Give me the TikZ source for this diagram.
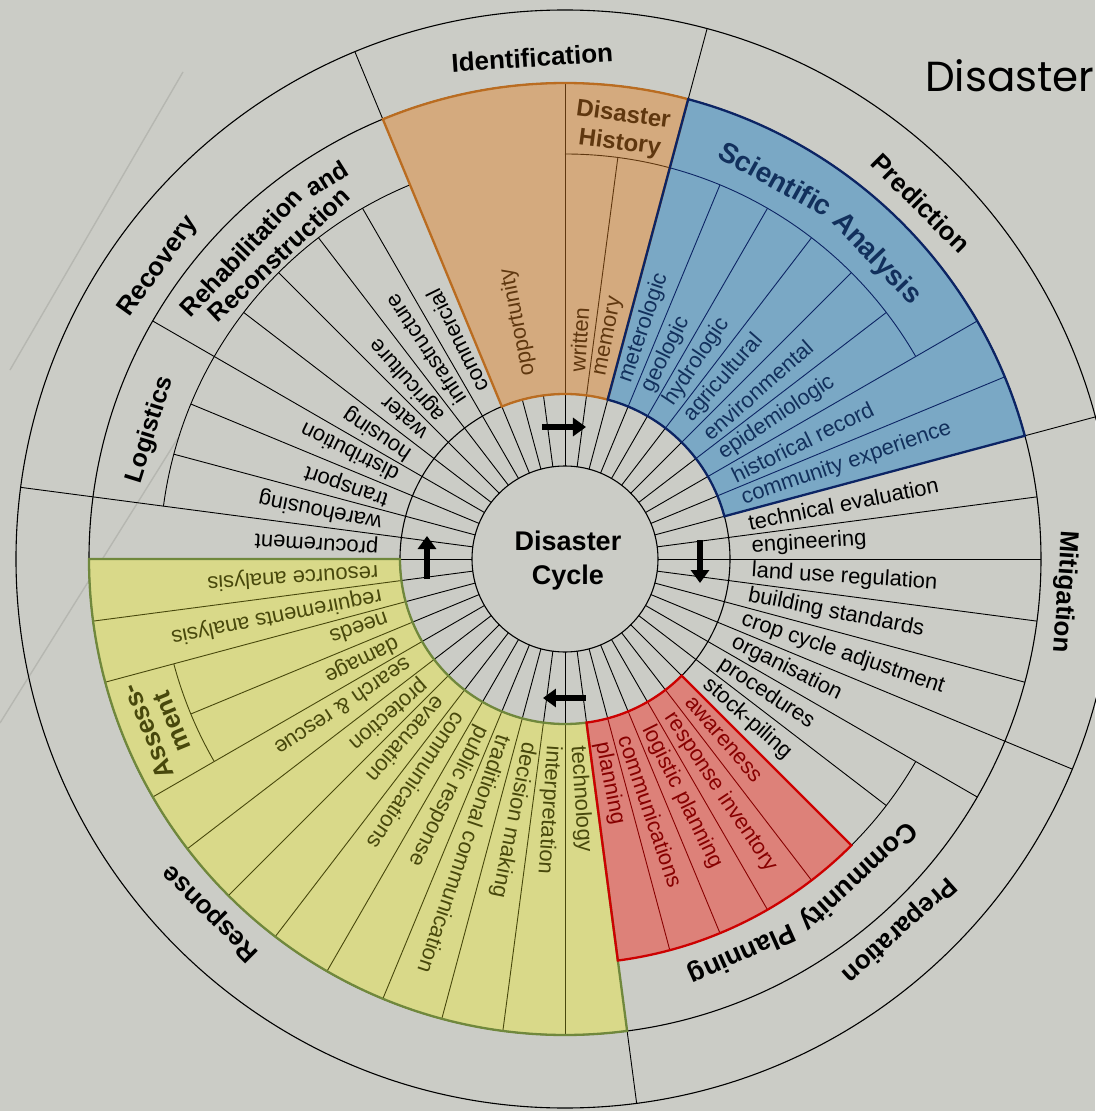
\documentclass[tikz,border=0pt]{standalone}
\usepackage{fontspec}
\setmainfont{Liberation Sans}
\newfontfamily\slidefont{Poppins}
\usetikzlibrary{arrows.meta}

\definecolor{bg}{RGB}{203,204,198}
\definecolor{orfill}{RGB}{212,170,126}
\definecolor{orline}{RGB}{186,108,32}
\definecolor{ortext}{RGB}{95,55,15}
\definecolor{blfill}{RGB}{122,168,197}
\definecolor{blline}{RGB}{12,36,100}
\definecolor{bltext}{RGB}{18,48,92}
\definecolor{yefill}{RGB}{217,217,137}
\definecolor{yeline}{RGB}{112,136,60}
\definecolor{yetext}{RGB}{72,72,12}
\definecolor{rdfill}{RGB}{221,129,121}
\definecolor{rdline}{RGB}{205,0,0}
\definecolor{rdtext}{RGB}{135,0,0}
\definecolor{faint}{RGB}{182,183,177}

\newcommand\itemsize{\fontsize{22}{24}\selectfont}
\newcommand\lblfont{\bfseries\fontsize{26}{28}\selectfont}
\newcommand\midfont{\bfseries\fontsize{25}{27}\selectfont}
\newcommand\safont{\bfseries\fontsize{28}{30}\selectfont}
\newcommand\dhfont{\bfseries\fontsize{24}{26}\selectfont}
\newcommand\asfont{\bfseries\fontsize{26}{28}\selectfont}
\newcommand\cpfont{\bfseries\fontsize{27}{29}\selectfont}

\begin{document}
\begin{tikzpicture}[x=1pt,y=1pt,
  circline/.style={line width=1.1pt,draw=black},
  thinl/.style={line width=0.9pt},
  secborder/.style={line width=2.3pt},
  itemtext/.style={font=\itemsize,anchor=west,inner sep=1pt},
  lbl/.style={anchor=base,inner sep=0pt},
  cyclearrow/.style={line width=6.5pt,-{Triangle[length=13pt,width=18pt]}}]

\useasboundingbox (-565,-552) rectangle (530,559);
\fill[bg] (-565,-552) rectangle (530,559);

% faint slide decoration
\draw[faint,line width=1.4pt] (-382,487) -- (-555,189);
\draw[faint,line width=1.4pt] (-387,121) -- (-565,-164);

% sector fills
\fill[orfill] (75:165pt) arc[start angle=75,end angle=112.5,radius=165pt] -- (112.5:476pt) arc[start angle=112.5,end angle=75,radius=476pt] -- cycle;
\fill[blfill] (15:165pt) arc[start angle=15,end angle=75,radius=165pt] -- (75:476pt) arc[start angle=75,end angle=15,radius=476pt] -- cycle;
\fill[yefill] (180:165pt) arc[start angle=180,end angle=277.5,radius=165pt] -- (277.5:476pt) arc[start angle=277.5,end angle=180,radius=476pt] -- cycle;
\fill[rdfill] (-82.5:165pt) arc[start angle=-82.5,end angle=-45,radius=165pt] -- (-45:405pt) arc[start angle=-45,end angle=-82.5,radius=405pt] -- cycle;

% circles
\draw[circline] (0,0) circle[radius=93pt];
\draw[circline] (0,0) circle[radius=165pt];
\draw[circline] (0,0) circle[radius=476pt];
\draw[circline] (0,0) circle[radius=549pt];

% spokes of the inner ring
\foreach \a in {0,7.5,...,352.5} \draw[thinl] (\a:93pt) -- (\a:165pt);

% black item lines
\foreach \a in {120,127.5,135,142.5,157.5,165,322.5} \draw[thinl] (\a:165pt) -- (\a:405pt);
\foreach \a in {150,0,7.5,-7.5,-15,-30} \draw[thinl] (\a:165pt) -- (\a:476pt);
\foreach \a in {172.5,-22.5} \draw[thinl] (\a:165pt) -- (\a:549pt);
\foreach \a in {112.5,75,15,277.5} \draw[thinl] (\a:476pt) -- (\a:549pt);
\draw[thinl] (112.5:405pt) arc[start angle=112.5,end angle=172.5,radius=405pt];
\draw[thinl] (-45:405pt) arc[start angle=-45,end angle=-30,radius=405pt];

% blue lines
\foreach \a in {37.5,45,52.5,60,67.5} \draw[thinl,blline] (\a:165pt) -- (\a:405pt);
\foreach \a in {22.5,30} \draw[thinl,blline] (\a:165pt) -- (\a:476pt);
\draw[thinl,blline] (30:405pt) arc[start angle=30,end angle=75,radius=405pt];
% orange lines
\draw[thinl,ortext] (82.5:165pt) -- (82.5:405pt);
\draw[thinl,ortext] (90:165pt) -- (90:476pt);
\draw[thinl,ortext] (75:405pt) arc[start angle=75,end angle=90,radius=405pt];
% yellow lines
\foreach \a in {187.5,195,210,217.5,225,232.5,240,247.5,255,262.5,270} \draw[thinl,yetext] (\a:165pt) -- (\a:476pt);
\draw[thinl,yetext] (202.5:165pt) -- (202.5:405pt);
\draw[thinl,yetext] (195:405pt) arc[start angle=195,end angle=210,radius=405pt];
% red lines
\foreach \a in {285,292.5,300,307.5} \draw[thinl,rdtext] (\a:165pt) -- (\a:405pt);

% sector borders
\draw[secborder,orline] (75:165pt) arc[start angle=75,end angle=112.5,radius=165pt] -- (112.5:476pt) arc[start angle=112.5,end angle=75,radius=476pt] -- cycle;
\draw[secborder,blline] (15:165pt) arc[start angle=15,end angle=75,radius=165pt] -- (75:476pt) arc[start angle=75,end angle=15,radius=476pt] -- cycle;
\draw[secborder,yeline] (180:165pt) arc[start angle=180,end angle=277.5,radius=165pt] -- (277.5:476pt) arc[start angle=277.5,end angle=180,radius=476pt] -- cycle;
\draw[secborder,rdline] (-82.5:165pt) arc[start angle=-82.5,end angle=-45,radius=165pt] -- (-45:405pt) arc[start angle=-45,end angle=-82.5,radius=405pt] -- cycle;

% centre
\node[font=\bfseries\fontsize{27}{34}\selectfont,align=center] (cyc) at (3,-2) {Disaster\\Cycle};

% cycle arrows
\coordinate (a1s) at (-23,132); \coordinate (a1e) at (21,132);
\coordinate (a2s) at (135,19);  \coordinate (a2e) at (135,-24);
\coordinate (a3s) at (21,-139); \coordinate (a3e) at (-22,-139);
\coordinate (a4s) at (-138,-20); \coordinate (a4e) at (-138,23);
\draw[cyclearrow] (a1s) -- (a1e);
\draw[cyclearrow] (a2s) -- (a2e);
\draw[cyclearrow] (a3s) -- (a3e);
\draw[cyclearrow] (a4s) -- (a4e);

% outer ring labels
\node[lbl,font=\lblfont,rotate=3.75] (l01) at (93.75:493pt) {Identification};
\node[lbl,font=\lblfont,rotate=-45] (l02) at (45:494pt) {Prediction};
\node[lbl,font=\lblfont,rotate=-93.75] (l03) at (-3.75:494pt) {Mitigation};
\node[lbl,font=\lblfont,rotate=-138] (l04) at (-48:492pt) {Preparation};
\node[lbl,font=\lblfont,rotate=135] (l05) at (225:494pt) {Response};
\node[lbl,font=\lblfont,rotate=54.25] (l06) at (144.25:494pt) {Recovery};
% middle ring labels
\node[lbl,font=\midfont,rotate=46.6] (l07) at (136.6:437pt) {Rehabilitation};
\node[lbl,font=\midfont,rotate=32.06] (l08) at (122.06:440pt) {and};
\node[lbl,font=\midfont,rotate=43.25] (l09) at (133.25:409pt) {Reconstruction};
\node[lbl,font=\midfont,rotate=72.7] (l10) at (162.7:428pt) {Logistics};
\node[lbl,font=\safont,text=bltext,rotate=-29] (l11) at (61:425pt) {Scientific};
\node[lbl,font=\safont,text=bltext,rotate=-46.06] (l12) at (43.94:425pt) {Analysis};
\node[lbl,font=\dhfont,text=ortext,rotate=-7.5] (l13) at (82.5:441pt) {Disaster};
\node[lbl,font=\dhfont,text=ortext,rotate=-7.5] (l14) at (82.5:413pt) {History};
\node[lbl,font=\asfont,text=yetext,rotate=112.5] (l15) at (202.5:443pt) {Assess-};
\node[lbl,font=\asfont,text=yetext,rotate=112.5] (l16) at (202.5:417pt) {ment};
\node[lbl,font=\cpfont,rotate=-137.27] (l17) at (-47.27:424pt) {Community};
\node[lbl,font=\cpfont,rotate=-155.84] (l18) at (-65.84:425pt) {Planning};

% recovery items
\node[itemtext,rotate=116.25] (i01) at (116.25:186pt) {commercial};
\node[itemtext,rotate=123.75] (i02) at (123.75:186pt) {infrastructure};
\node[itemtext,rotate=131.25] (i03) at (131.25:186pt) {agriculture};
\node[itemtext,rotate=138.75] (i04) at (138.75:186pt) {water};
\node[itemtext,rotate=146.25] (i05) at (146.25:186pt) {housing};
\node[itemtext,rotate=153.75] (i06) at (153.75:186pt) {distribution};
\node[itemtext,rotate=161.25] (i07) at (161.25:186pt) {transport};
\node[itemtext,rotate=168.75] (i08) at (168.75:186pt) {warehousing};
\node[itemtext,rotate=176.25] (i09) at (176.25:186pt) {procurement};
% identification items
\node[itemtext,rotate=101.25,text=ortext] (i10) at (101.25:186pt) {opportunity};
\node[itemtext,rotate=86.25,text=ortext] (i11) at (86.25:186pt) {written};
\node[itemtext,rotate=78.75,text=ortext] (i12) at (78.75:186pt) {memory};
% scientific analysis items
\node[itemtext,rotate=71.25,text=bltext] (i13) at (71.25:186pt) {meterologic};
\node[itemtext,rotate=63.75,text=bltext] (i14) at (63.75:186pt) {geologic};
\node[itemtext,rotate=56.25,text=bltext] (i15) at (56.25:186pt) {hydrologic};
\node[itemtext,rotate=48.75,text=bltext] (i16) at (48.75:186pt) {agricultural};
\node[itemtext,rotate=41.25,text=bltext] (i17) at (41.25:186pt) {environmental};
\node[itemtext,rotate=33.75,text=bltext] (i18) at (33.75:186pt) {epidemiologic};
\node[itemtext,rotate=26.25,text=bltext] (i19) at (26.25:186pt) {historical record};
\node[itemtext,rotate=18.75,text=bltext] (i20) at (18.75:186pt) {community experience};
% mitigation items
\node[itemtext,rotate=11.25] (i21) at (11.25:186pt) {technical evaluation};
\node[itemtext,rotate=3.75] (i22) at (3.75:186pt) {engineering};
\node[itemtext,rotate=-3.75] (i23) at (-3.75:186pt) {land use regulation};
\node[itemtext,rotate=-11.25] (i24) at (-11.25:186pt) {building standards};
\node[itemtext,rotate=-18.75] (i25) at (-18.75:186pt) {crop cycle adjustment};
\node[itemtext,rotate=-26.25] (i26) at (-26.25:186pt) {organisation};
\node[itemtext,rotate=-33.75] (i27) at (-33.75:186pt) {procedures};
\node[itemtext,rotate=-41.25] (i28) at (-41.25:186pt) {stock-piling};
% community planning items
\node[itemtext,rotate=-48.75,text=rdtext] (i29) at (-48.75:186pt) {awareness};
\node[itemtext,rotate=-56.25,text=rdtext] (i30) at (-56.25:186pt) {response inventory};
\node[itemtext,rotate=-63.75,text=rdtext] (i31) at (-63.75:186pt) {logistic planning};
\node[itemtext,rotate=-71.25,text=rdtext] (i32) at (-71.25:186pt) {communications};
\node[itemtext,rotate=-78.75,text=rdtext] (i33) at (-78.75:186pt) {planning};
% response items
\node[itemtext,rotate=183.75,text=yetext] (i34) at (183.75:186pt) {resource analysis};
\node[itemtext,rotate=191.25,text=yetext] (i35) at (191.25:186pt) {requirements analysis};
\node[itemtext,rotate=198.75,text=yetext] (i36) at (198.75:186pt) {needs};
\node[itemtext,rotate=206.25,text=yetext] (i37) at (206.25:186pt) {damage};
\node[itemtext,rotate=213.75,text=yetext] (i38) at (213.75:186pt) {search \& rescue};
\node[itemtext,rotate=221.25,text=yetext] (i39) at (221.25:186pt) {protection};
\node[itemtext,rotate=228.75,text=yetext] (i40) at (228.75:186pt) {evacuation};
\node[itemtext,rotate=236.25,text=yetext] (i41) at (236.25:186pt) {communications};
\node[itemtext,rotate=243.75,text=yetext] (i42) at (243.75:186pt) {public response};
\node[itemtext,rotate=251.25,text=yetext] (i43) at (251.25:186pt) {traditional communication};
\node[itemtext,rotate=258.75,text=yetext] (i44) at (258.75:186pt) {decision making};
\node[itemtext,rotate=266.25,text=yetext] (i45) at (266.25:186pt) {interpretation};
\node[itemtext,rotate=273.75,text=yetext] (i46) at (273.75:186pt) {technology};

% slide title (cut at the right edge)
\node[anchor=base west,font=\slidefont\fontsize{42}{42}\selectfont,inner sep=0pt] (title) at (360,467) {Disaster};
\end{tikzpicture}
\end{document}
